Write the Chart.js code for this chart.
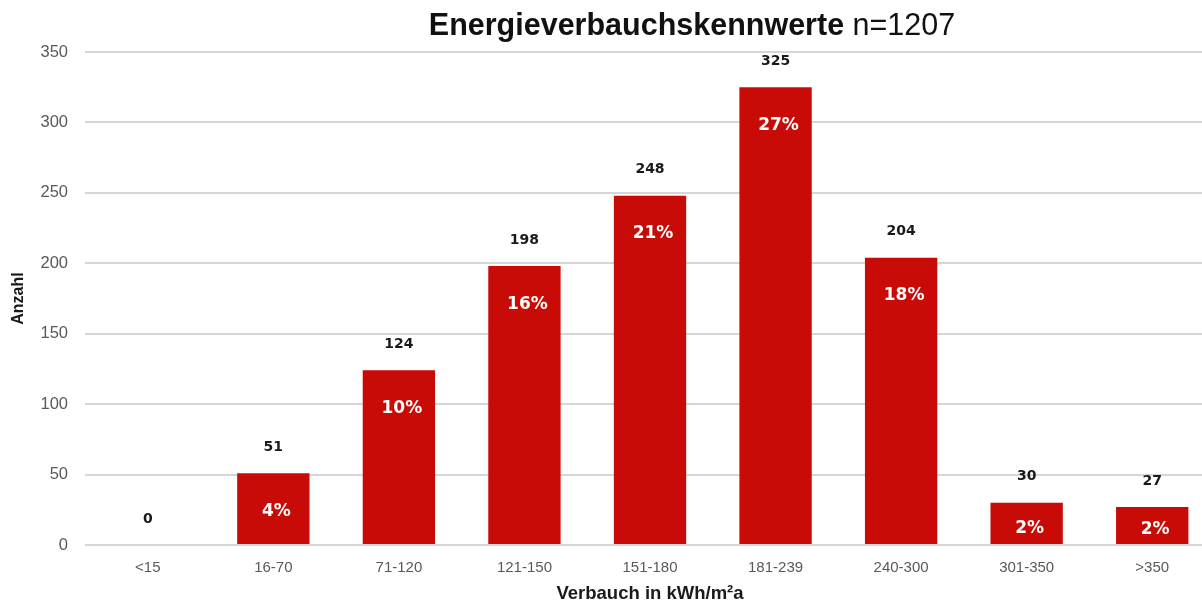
<!DOCTYPE html>
<html>
<head>
<meta charset="utf-8">
<script src="https://cdn.jsdelivr.net/npm/chart.js@4/dist/chart.umd.min.js"></script>
<style>
  html, body { margin: 0; padding: 0; background: #fff; overflow: hidden; width: 1202px; height: 605px; }
  canvas { display: block; }
</style>
</head>
<body>
<canvas id="c" width="1215" height="605"></canvas>
<script>
const categories = ['<15', '16-70', '71-120', '121-150', '151-180', '181-239', '240-300', '301-350', '>350'];
const counts = [0, 51, 124, 198, 248, 325, 204, 30, 27];
const percentLabels = ['', '4%', '10%', '16%', '21%', '27%', '18%', '2%', '2%'];
const yTicks = [0, 50, 100, 150, 200, 250, 300, 350];
const titleBold = 'Energieverbauchskennwerte';
const titleNormal = ' n=1207';
const xTitle = 'Verbauch in kWh/m²a';
const yTitle = 'Anzahl';

const FONT = "'Liberation Sans', Arial, sans-serif";
const WIDE = "'DejaVu Sans', sans-serif";

const labelPlugin = {
  id: 'labels',
  afterDatasetsDraw(chart) {
    const ctx = chart.ctx;
    const meta = chart.getDatasetMeta(0);
    const yScale = chart.scales.y;
    const base = yScale.getPixelForValue(0);
    ctx.save();
    ctx.textAlign = 'center';
    ctx.textBaseline = 'middle';
    meta.data.forEach((bar, i) => {
      const top = bar.y;
      ctx.fillStyle = '#1a1a1a';
      ctx.font = "bold 14px " + WIDE;
      ctx.fillText(String(counts[i]), bar.x, top - 26);
      if (percentLabels[i]) {
        const h = base - top;
        const off = Math.min(38, h * 0.6);
        ctx.fillStyle = '#ffffff';
        ctx.font = "bold 17px " + WIDE;
        ctx.fillText(percentLabels[i], bar.x + 3, top + off);
      }
    });
    ctx.restore();
  },
  afterDraw(chart) {
    const ctx = chart.ctx;
    ctx.save();
    ctx.textBaseline = 'middle';
    ctx.textAlign = 'left';
    ctx.fillStyle = '#111';
    const size = 30.5;
    ctx.font = "bold " + size + "px " + FONT;
    const wb = ctx.measureText(titleBold).width;
    ctx.font = size + "px " + FONT;
    const wn = ctx.measureText(titleNormal).width;
    const cx = 692;
    let x = cx - (wb + wn) / 2;
    ctx.font = "bold " + size + "px " + FONT;
    ctx.fillText(titleBold, x, 27);
    ctx.font = size + "px " + FONT;
    ctx.fillText(titleNormal, x + wb, 27);
    ctx.restore();
  }
};

new Chart(document.getElementById('c'), {
  type: 'bar',
  data: {
    labels: categories,
    datasets: [{
      data: counts,
      backgroundColor: '#c80b06',
      borderWidth: 0,
      categoryPercentage: 1,
      barPercentage: 0.576
    }]
  },
  options: {
    responsive: false,
    animation: false,
    events: [],
    layout: { padding: { top: 52, left: 0, right: 0, bottom: 0 } },
    plugins: { legend: { display: false }, tooltip: { enabled: false }, title: { display: false } },
    scales: {
      x: {
        grid: { display: false, drawTicks: false },
        border: { display: false },
        ticks: { color: '#595959', font: { family: FONT, size: 15 }, padding: 14, maxRotation: 0 },
        title: { display: true, text: xTitle, color: '#1a1a1a', font: { family: FONT, size: 18.5, weight: 'bold' }, padding: { top: 0, bottom: 0 } },
        afterFit(s) { s.height = 60; }
      },
      y: {
        min: 0, max: 350,
        afterBuildTicks(s) { s.ticks = yTicks.map(v => ({ value: v })); },
        grid: { color: '#d6d6d6', lineWidth: 2, drawTicks: false },
        border: { display: false },
        ticks: { color: '#595959', font: { family: FONT, size: 16.5 }, padding: 17 },
        title: { display: true, text: yTitle, color: '#1a1a1a', font: { family: FONT, size: 16, weight: 'bold' }, padding: { top: 9, bottom: 0 } },
        afterFit(s) { s.width = 85; }
      }
    }
  },
  plugins: [labelPlugin]
});
</script>
</body>
</html>
